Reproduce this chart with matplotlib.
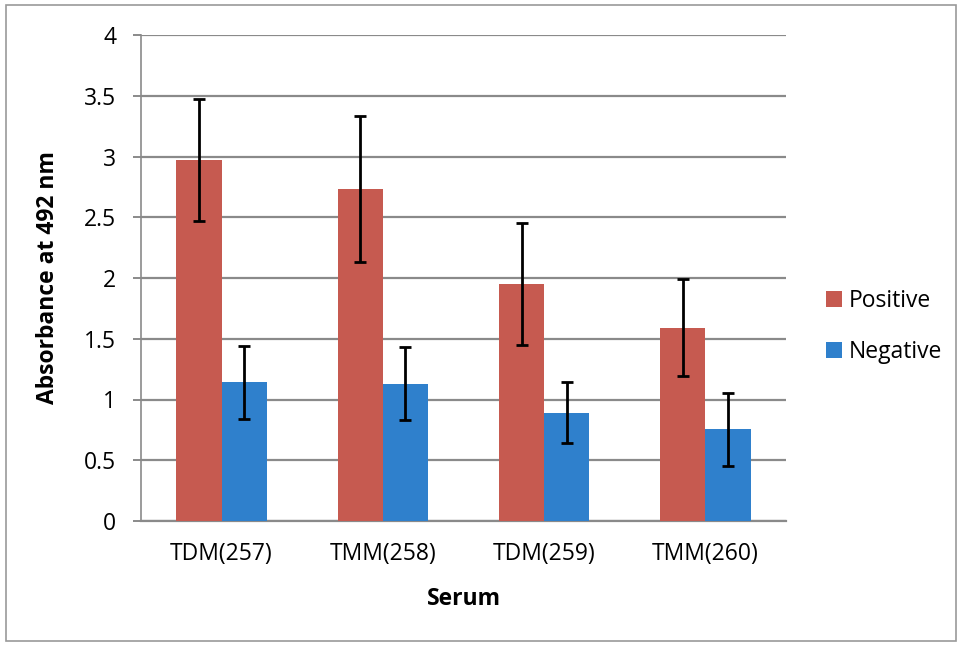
import matplotlib
matplotlib.use("Agg")
import matplotlib.pyplot as plt
from matplotlib.patches import Rectangle
import numpy as np

plt.rcParams['font.family'] = ['Open Sans', 'DejaVu Sans']

categories = ["TDM(257)", "TMM(258)", "TDM(259)", "TMM(260)"]
positive = [2.97, 2.73, 1.95, 1.59]
positive_err = [0.50, 0.60, 0.50, 0.40]
negative = [1.14, 1.13, 0.89, 0.755]
negative_err = [0.30, 0.30, 0.25, 0.30]
yticks = [0, 0.5, 1, 1.5, 2, 2.5, 3, 3.5, 4]
ytick_labels = ["0", "0.5", "1", "1.5", "2", "2.5", "3", "3.5", "4"]

red = "#C65A50"
blue = "#2F80CC"
grid_gray = "#8a8a8a"

fig = plt.figure(figsize=(9.6, 6.45), dpi=100)
ax = fig.add_axes([141 / 960, 1 - 521 / 645, (786 - 141) / 960, (521 - 35) / 645])

x = np.arange(len(categories))
w = 0.28
err_kw = dict(ecolor="black", elinewidth=2, capsize=4, capthick=2)
ax.bar(x - w / 2, positive, w, color=red, label="Positive",
       yerr=positive_err, error_kw=err_kw, zorder=3)
ax.bar(x + w / 2, negative, w, color=blue, label="Negative",
       yerr=negative_err, error_kw=err_kw, zorder=3)

ax.set_xlim(-0.5, len(categories) - 0.5)
ax.set_ylim(0, 4)
ax.set_yticks(yticks)
ax.set_yticklabels(ytick_labels)
ax.set_xticks(x)
ax.set_xticklabels(categories)

ax.yaxis.grid(True, color=grid_gray, linewidth=1.6, zorder=0)
ax.set_axisbelow(True)
for side in ("top", "right"):
    ax.spines[side].set_visible(False)
ax.spines["left"].set_color(grid_gray)
ax.spines["left"].set_linewidth(1.2)
ax.spines["bottom"].set_color(grid_gray)
ax.spines["bottom"].set_linewidth(1.6)

ax.tick_params(axis="y", direction="out", length=6, width=1.4, color=grid_gray,
               labelsize=16.5, pad=12)
ax.tick_params(axis="x", length=0, labelsize=16.5, pad=15)

ax.set_ylabel("Absorbance at 492 nm", fontsize=16.5, fontweight="bold")
ax.set_xlabel("Serum", fontsize=16.5, fontweight="bold")
ax.yaxis.set_label_coords(-0.125, 0.5)
ax.xaxis.set_label_coords(0.5, -0.135)

leg = ax.legend(loc="center left", bbox_to_anchor=(1.03, 0.40), frameon=False,
                fontsize=16.5, handlelength=0.68, handleheight=0.68,
                handletextpad=0.3, labelspacing=1.2)

fig.patches.append(Rectangle((6 / 960, 4 / 645), 950 / 960, 636 / 645,
                             transform=fig.transFigure, fill=False,
                             edgecolor="#9a9a9a", linewidth=1.2))

fig.savefig("out.png", dpi=100)
